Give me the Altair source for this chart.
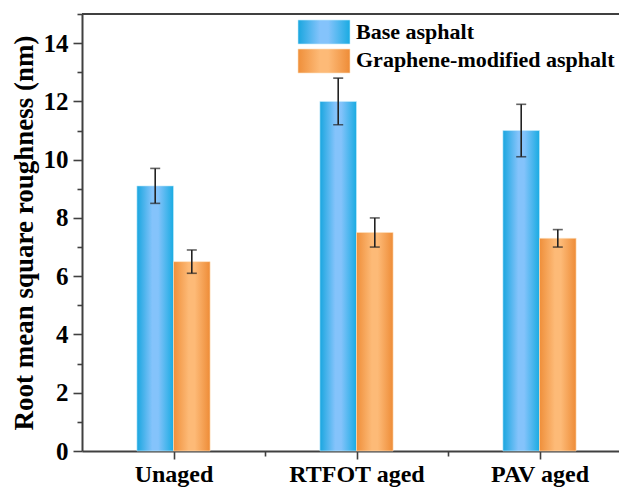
import altair as alt
import pandas as pd

categories = ["Unaged", "RTFOT aged", "PAV aged"]
series = ["Base asphalt", "Graphene-modified asphalt"]
base_values = [9.1, 12.0, 11.0]
base_errors = [0.6, 0.8, 0.9]
graphene_values = [6.5, 7.5, 7.3]
graphene_errors = [0.4, 0.5, 0.3]
y_major_ticks = [0, 2, 4, 6, 8, 10, 12, 14]
y_minor_ticks = [1, 3, 5, 7, 9, 11, 13, 15]
x_major_ticks = [1, 2, 3]
x_minor_ticks = [1.5, 2.5]

BAR_W = 0.2
rows = []
for i, cat in enumerate(categories):
    pos = i + 1
    rows.append(dict(category=cat, series=series[0], value=base_values[i], err=base_errors[i],
                     x0=pos - BAR_W, x1=pos, xc=pos - BAR_W / 2))
    rows.append(dict(category=cat, series=series[1], value=graphene_values[i], err=graphene_errors[i],
                     x0=pos, x1=pos + BAR_W, xc=pos + BAR_W / 2))
df = pd.DataFrame(rows)
df["lo"] = df["value"] - df["err"]
df["hi"] = df["value"] + df["err"]

FONT = "Liberation Serif"
TOP = 6
W, H = 537, 437
PX_PER_CAT = 183.0

blue_grad = alt.LinearGradient(
    gradient="linear", x1=0, x2=1, y1=0, y2=0,
    stops=[alt.GradientStop(color="#19a6df", offset=0),
           alt.GradientStop(color="#84c3fb", offset=0.42),
           alt.GradientStop(color="#84c3fb", offset=0.58),
           alt.GradientStop(color="#19abe2", offset=1)])
orange_grad = alt.LinearGradient(
    gradient="linear", x1=0, x2=1, y1=0, y2=0,
    stops=[alt.GradientStop(color="#ef8f3a", offset=0),
           alt.GradientStop(color="#fdba77", offset=0.42),
           alt.GradientStop(color="#fdba77", offset=0.58),
           alt.GradientStop(color="#ee8c37", offset=1)])

xscale = alt.Scale(domain=[0.5, 0.5 + W / PX_PER_CAT], nice=False, zero=False)
yscale = alt.Scale(domain=[0, 15], nice=False)

label_expr = " : ".join(
    [f"datum.value == {i + 1} ? '{c}'" for i, c in enumerate(categories)]) + " : ''"

x_axis_major = alt.Axis(values=x_major_ticks, labelExpr=label_expr, grid=False, orient="bottom",
                        tickSize=8, labelPadding=3, labelFontSize=24, title=None)
x_axis_minor = alt.Axis(values=x_minor_ticks, labels=False, grid=False, domain=False,
                        orient="bottom", tickSize=5, title=None)
y_axis_major = alt.Axis(values=y_major_ticks, grid=False, tickSize=9, labelPadding=5,
                        orient="left", labelFontSize=25,
                        titlePadding=5, titleFontSize=27, title="Root mean square roughness (nm)")
y_axis_minor = alt.Axis(values=y_minor_ticks, labels=False, grid=False, domain=False,
                        orient="left", tickSize=5, title=None)

base = alt.Chart(df)

bars_base = base.transform_filter(alt.datum.series == series[0]).mark_bar(
    color=blue_grad, stroke="#c8ecfb", strokeWidth=0.6).encode(
    x=alt.X("x0:Q", scale=xscale, axis=x_axis_major),
    x2="x1:Q",
    y=alt.Y("value:Q", scale=yscale, axis=y_axis_major),
    y2=alt.datum(0),
)
bars_gr = base.transform_filter(alt.datum.series == series[1]).mark_bar(
    color=orange_grad, stroke="#fde0c0", strokeWidth=0.6).encode(
    x=alt.X("x0:Q", scale=xscale, axis=x_axis_minor),
    x2="x1:Q",
    y=alt.Y("value:Q", scale=yscale, axis=y_axis_minor),
    y2=alt.datum(0),
)
stems = base.mark_rule(color="#222222", strokeWidth=1.6).encode(
    x=alt.X("xc:Q", scale=xscale, axis=None),
    y=alt.Y("lo:Q", scale=yscale, axis=None),
    y2="hi:Q",
)
caps_lo = base.mark_tick(orient="horizontal", size=10, thickness=1.6, color="#222222").encode(
    x=alt.X("xc:Q", scale=xscale, axis=None),
    y=alt.Y("lo:Q", scale=yscale, axis=None),
)
caps_hi = base.mark_tick(orient="horizontal", size=10, thickness=1.6, color="#222222").encode(
    x=alt.X("xc:Q", scale=xscale, axis=None),
    y=alt.Y("hi:Q", scale=yscale, axis=None),
)

top_line = alt.Chart(pd.DataFrame({"k": [0]})).mark_rule(color="#404040", strokeWidth=2).encode(
    x=alt.value(0), x2=alt.value(W), y=alt.value(0))

leg_df0 = pd.DataFrame({"series": [series[0]]})
leg_df1 = pd.DataFrame({"series": [series[1]]})
leg_sw0 = alt.Chart(leg_df0).mark_rect(color=blue_grad, stroke="#c8ecfb", strokeWidth=0.6).encode(
    x=alt.value(216), x2=alt.value(268), y=alt.value(6), y2=alt.value(30))
leg_sw1 = alt.Chart(leg_df1).mark_rect(color=orange_grad, stroke="#fde0c0", strokeWidth=0.6).encode(
    x=alt.value(216), x2=alt.value(268), y=alt.value(35), y2=alt.value(59))
leg_tx0 = alt.Chart(leg_df0).mark_text(align="left", baseline="alphabetic", font=FONT,
                                       fontSize=22, fontWeight="bold", color="black").encode(
    x=alt.value(274), y=alt.value(25), text="series:N")
leg_tx1 = alt.Chart(leg_df1).mark_text(align="left", baseline="alphabetic", font=FONT,
                                       fontSize=22, fontWeight="bold", color="black").encode(
    x=alt.value(274), y=alt.value(53), text="series:N")

chart = alt.layer(
    bars_base, bars_gr, stems, caps_lo, caps_hi, top_line,
    leg_sw0, leg_sw1, leg_tx0, leg_tx1,
).properties(
    width=W, height=H,
    autosize=alt.AutoSizeParams(type="none"),
    padding={"left": 74, "top": TOP, "right": 0, "bottom": 482 - TOP - H},
).resolve_axis(x="independent", y="independent").configure_view(stroke=None).configure_axis(
    domainColor="#404040", domainWidth=2, tickColor="#404040", tickWidth=1.6,
    labelFont=FONT, labelFontWeight="bold", labelFontSize=23, labelColor="black",
    titleFont=FONT, titleFontWeight="bold", titleFontSize=23, titleColor="black",
)

chart.save("out.html", embed_options={"renderer": "svg", "actions": False})
